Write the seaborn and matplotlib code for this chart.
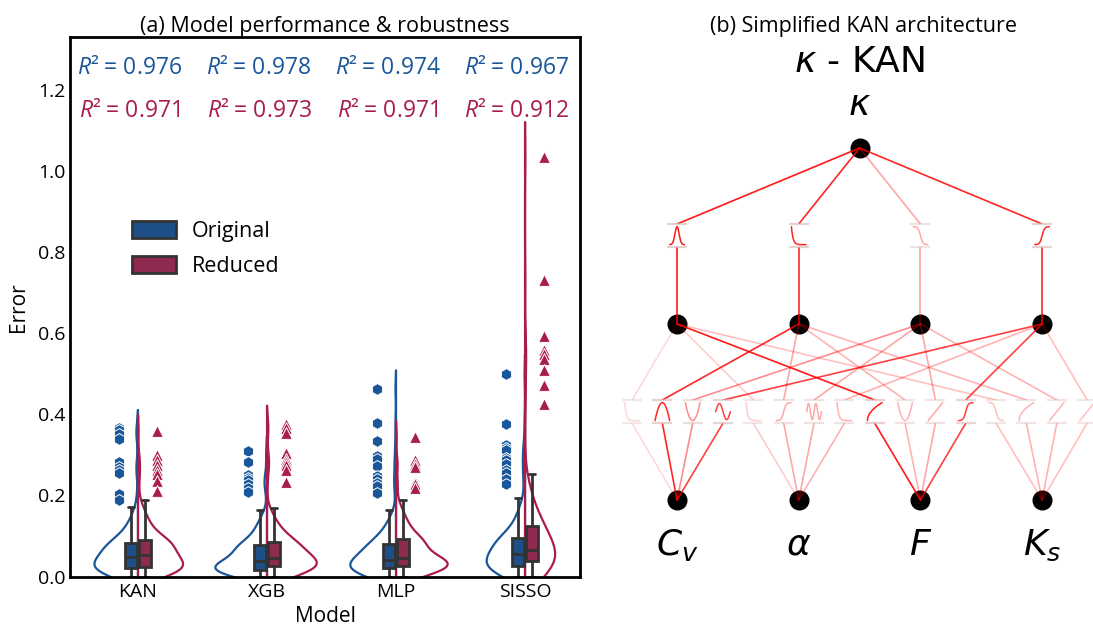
import numpy as np
import pandas as pd
import matplotlib
matplotlib.use("Agg")
import matplotlib.pyplot as plt
import seaborn as sns
from matplotlib.cbook import boxplot_stats
from matplotlib.patches import Rectangle

# ---------------------------------------------------------------- data
models = ["KAN", "XGB", "MLP", "SISSO"]
sets = ["Original", "Reduced"]

# Test-set absolute errors, stored as representative values with a shared
# frequency profile, followed by the points flagged as outliers.
body_counts = [10, 18, 17, 16, 19, 18, 15, 14, 23, 14, 8, 7, 6, 5, 4, 3, 2, 1]

kan_orig_vals = [0.000, 0.008, 0.014, 0.021, 0.030, 0.040, 0.048, 0.060, 0.073,
                 0.083, 0.094, 0.105, 0.116, 0.127, 0.138, 0.149, 0.160, 0.171]
kan_orig_out = [0.366, 0.360, 0.352, 0.340, 0.282, 0.270, 0.262, 0.254, 0.204, 0.188]

kan_red_vals = [0.000, 0.009, 0.016, 0.023, 0.034, 0.045, 0.054, 0.067, 0.080,
                0.091, 0.103, 0.116, 0.127, 0.140, 0.152, 0.165, 0.176, 0.189]
kan_red_out = [0.358, 0.299, 0.288, 0.275, 0.262, 0.252, 0.235, 0.212]

xgb_orig_vals = [0.000, 0.006, 0.012, 0.017, 0.024, 0.032, 0.038, 0.052, 0.066,
                 0.078, 0.088, 0.100, 0.110, 0.122, 0.132, 0.143, 0.154, 0.165]
xgb_orig_out = [0.309, 0.282, 0.249, 0.243, 0.237, 0.227, 0.219, 0.208]

xgb_red_vals = [0.000, 0.010, 0.018, 0.025, 0.032, 0.040, 0.046, 0.059, 0.073,
                0.084, 0.094, 0.105, 0.115, 0.126, 0.137, 0.148, 0.158, 0.169]
xgb_red_out = [0.377, 0.365, 0.354, 0.305, 0.290, 0.282, 0.274, 0.263, 0.233]

mlp_orig_vals = [0.000, 0.007, 0.013, 0.020, 0.027, 0.035, 0.041, 0.054, 0.068,
                 0.079, 0.089, 0.100, 0.110, 0.121, 0.131, 0.142, 0.152, 0.163]
mlp_orig_out = [0.462, 0.379, 0.333, 0.296, 0.290, 0.272, 0.248, 0.241, 0.230, 0.222, 0.206]

mlp_red_vals = [0.000, 0.010, 0.018, 0.026, 0.033, 0.039, 0.045, 0.061, 0.078,
                0.092, 0.104, 0.116, 0.128, 0.141, 0.152, 0.165, 0.176, 0.189]
mlp_red_out = [0.344, 0.286, 0.278, 0.270, 0.232, 0.229, 0.217]

sisso_orig_vals = [0.000, 0.010, 0.018, 0.026, 0.037, 0.047, 0.056, 0.069, 0.083,
                   0.094, 0.106, 0.119, 0.131, 0.144, 0.156, 0.169, 0.181, 0.194]
sisso_orig_out = [0.498, 0.375, 0.323, 0.317, 0.311, 0.292, 0.286, 0.277, 0.262,
                  0.254, 0.241, 0.227]

sisso_red_vals = [0.000, 0.014, 0.026, 0.037, 0.047, 0.057, 0.066, 0.087, 0.107,
                  0.125, 0.140, 0.157, 0.172, 0.189, 0.204, 0.220, 0.235, 0.252]
sisso_red_out = [1.034, 0.731, 0.593, 0.558, 0.548, 0.537, 0.510, 0.472, 0.425]

r2_original = [0.976, 0.978, 0.974, 0.967]
r2_reduced = [0.971, 0.973, 0.971, 0.912]

groups = {
    ("KAN", "Original"): (kan_orig_vals, kan_orig_out),
    ("KAN", "Reduced"): (kan_red_vals, kan_red_out),
    ("XGB", "Original"): (xgb_orig_vals, xgb_orig_out),
    ("XGB", "Reduced"): (xgb_red_vals, xgb_red_out),
    ("MLP", "Original"): (mlp_orig_vals, mlp_orig_out),
    ("MLP", "Reduced"): (mlp_red_vals, mlp_red_out),
    ("SISSO", "Original"): (sisso_orig_vals, sisso_orig_out),
    ("SISSO", "Reduced"): (sisso_red_vals, sisso_red_out),
}

# KAN diagram: inputs, output and edge strengths
input_labels = ["$C_v$", r"$\alpha$", "$F$", "$K_s$"]
output_label = r"$\kappa$"
# strength of edge input i -> hidden j (rows = inputs)
lower_weights = [[0.15, 0.85, 0.45, 0.75],
                 [0.20, 0.35, 0.35, 0.30],
                 [0.90, 0.30, 0.35, 0.75],
                 [0.25, 0.30, 0.30, 0.25]]
# strength of edge hidden j -> output
upper_weights = [0.90, 0.85, 0.35, 0.85]
lower_shapes = ["drop", "arch", "valley", "wave", "drop", "rise", "wave2", "drop",
                "arc", "valley", "line", "rise", "fall", "arc", "line", "line"]
upper_shapes = ["bump", "drop", "fall", "rise"]

# ---------------------------------------------------------------- style
sns.set_theme(style="white")
plt.rcParams["font.family"] = ["Open Sans", "DejaVu Sans"]
plt.rcParams["mathtext.fontset"] = "custom"
plt.rcParams["mathtext.rm"] = "Open Sans"
plt.rcParams["mathtext.it"] = "Open Sans:italic"
plt.rcParams["text.color"] = "black"
plt.rcParams["axes.labelcolor"] = "black"
plt.rcParams["xtick.color"] = "black"
plt.rcParams["ytick.color"] = "black"

BLUE = "#19579A"
RED = "#A91D4B"
BOX_BLUE = "#1E5087"
BOX_RED = "#8E2A4F"
EDGE = "#333333"

rows = []
for (m, s), (vals, out) in groups.items():
    data = np.concatenate([np.repeat(vals, body_counts), out])
    for v in data:
        rows.append((m, s, v))
df = pd.DataFrame(rows, columns=["Model", "Set", "Error"])

fig = plt.figure(figsize=(10.93, 6.33), dpi=100)

# ---------------------------------------------------------------- (a)
ax = fig.add_axes([70 / 1093, 56.5 / 633, 510 / 1093, 539.5 / 633])

sns.violinplot(data=df, x="Model", y="Error", hue="Set", order=models,
               hue_order=sets, split=True, inner=None, fill=False,
               palette=[BLUE, RED], linewidth=1.6, legend=False, ax=ax)

sns.boxplot(data=df, x="Model", y="Error", hue="Set", order=models,
            hue_order=sets, palette=[BOX_BLUE, BOX_RED], saturation=1,
            width=0.22, gap=0.15, showfliers=False, linecolor=EDGE,
            linewidth=2.0, ax=ax)

for i, m in enumerate(models):
    for s, dx, mk, col in [("Original", -0.15, "h", BLUE), ("Reduced", 0.15, "^", RED)]:
        vals = df.loc[(df.Model == m) & (df.Set == s), "Error"].to_numpy()
        fl = boxplot_stats(vals)[0]["fliers"]
        ax.scatter(np.full(len(fl), i + dx), fl, marker=mk, s=72, color=col,
                   edgecolors="white", linewidths=0.7, zorder=5)

for i in range(len(models)):
    ax.text(i - 0.062, 1.254, f"$R$² = {r2_original[i]:.3f}", color=BLUE,
            ha="center", va="center", fontsize=16.5)
    ax.text(i - 0.062, 1.148, f"$R$² = {r2_reduced[i]:.3f}", color=RED,
            ha="center", va="center", fontsize=16.5)

ax.set_xlim(-0.527, 3.426)
ax.set_ylim(0, 1.33)
ax.set_yticks(np.arange(0, 1.21, 0.2))
ax.set_yticklabels([f"{t:.1f}" for t in np.arange(0, 1.21, 0.2)])
ax.tick_params(direction="in", length=4, width=1.2, labelsize=14, colors="black")
ax.tick_params(axis="x", length=0, pad=5)
for sp in ax.spines.values():
    sp.set_linewidth(2.0)
    sp.set_color("black")
ax.set_xlabel("Model", fontsize=15, labelpad=3)
ax.set_ylabel("Error", fontsize=15, labelpad=6)

sns.move_legend(ax, "center left", bbox_to_anchor=(0.083, 0.607), frameon=False,
                title=None, fontsize=15.5, handlelength=2.05, handleheight=0.8,
                labelspacing=0.65, handletextpad=0.75)

fig.text(325 / 1093, 1 - 32 / 633, "(a) Model performance & robustness",
         ha="center", va="baseline", fontsize=15.5)

# ---------------------------------------------------------------- (b)
ax2 = fig.add_axes([600 / 1093, 0, 493 / 1093, 1])
ax2.set_xlim(-0.633, 3.418)
ax2.set_ylim(-0.756, 2.841)
ax2.axis("off")

shape_funcs = {
    "bump": lambda t: np.exp(-((t - 0.5) / 0.2) ** 2),
    "drop": lambda t: np.exp(-t * 9),
    "fall": lambda t: 1 / (1 + np.exp((t - 0.5) * 12)),
    "rise": lambda t: 1 / (1 + np.exp(-(t - 0.5) * 12)),
    "arch": lambda t: 1 - (2 * t - 1) ** 2,
    "valley": lambda t: (2 * t - 1) ** 2,
    "wave": lambda t: 0.5 + 0.45 * np.sin(2 * np.pi * t),
    "wave2": lambda t: 0.5 + 0.45 * np.sin(4 * np.pi * t),
    "arc": lambda t: np.sqrt(t),
    "line": lambda t: t,
}

ICON_W = 0.164
ICON_B, ICON_T = 0.436, 0.568


def draw_icon(xc, y0, shape, w):
    yb, yt = y0 + ICON_B, y0 + ICON_T
    ax2.add_patch(Rectangle((xc - ICON_W / 2, yb), ICON_W, yt - yb,
                            facecolor="white", edgecolor="none", zorder=4))
    bar_col = (0.85, 0.72, 0.72, 0.25 + 0.45 * w)
    for yy in (yb, yt):
        ax2.plot([xc - ICON_W / 2, xc + ICON_W / 2], [yy, yy], color=bar_col,
                 lw=1.6, zorder=5, solid_capstyle="butt")
    t = np.linspace(0, 1, 60)
    ax2.plot(xc - 0.06 + 0.12 * t, yb + 0.015 + (yt - yb - 0.03) * shape_funcs[shape](t),
             color="red", alpha=w, lw=1.1, zorder=5)


n_in = len(input_labels)
# input -> hidden edges through the 16 activation icons
for i in range(n_in):
    for j in range(n_in):
        k = i * n_in + j
        xk = -0.37 + k * 0.2493
        w = lower_weights[i][j]
        ax2.plot([i, xk], [0, ICON_B], color="red", alpha=w, lw=1.2, zorder=3)
        ax2.plot([xk, j], [ICON_T, 1], color="red", alpha=w, lw=1.2, zorder=3)
        draw_icon(xk, 0, lower_shapes[k], w)

# hidden -> output edges
for j in range(n_in):
    w = upper_weights[j]
    ax2.plot([j, j], [1, 1 + ICON_B], color="red", alpha=w, lw=1.2, zorder=3)
    ax2.plot([j, 1.5], [1 + ICON_T, 2], color="red", alpha=w, lw=1.2, zorder=3)
    draw_icon(j, 1, upper_shapes[j], w)

ax2.scatter(range(n_in), [0] * n_in, s=180, color="black", zorder=2)
ax2.scatter(range(n_in), [1] * n_in, s=180, color="black", zorder=2)
ax2.scatter([1.5], [2], s=180, color="black", zorder=2)

for i, lab in enumerate(input_labels):
    ax2.text(i, -0.3125, lab, ha="center", va="baseline", fontsize=26,
             math_fontfamily="dejavusans", family="DejaVu Sans", color="black")
ax2.text(1.5, 2.19, output_label, ha="center", va="baseline", fontsize=26,
         math_fontfamily="dejavusans", family="DejaVu Sans", color="black")
ax2.text(1.5, 2.434, r"$\kappa$ - KAN", ha="center", va="baseline", fontsize=26,
         math_fontfamily="dejavusans", family="DejaVu Sans", color="black")

fig.text(863 / 1093, 1 - 32 / 633, "(b) Simplified KAN architecture",
         ha="center", va="baseline", fontsize=15.5)

fig.savefig("out.png", dpi=100)
